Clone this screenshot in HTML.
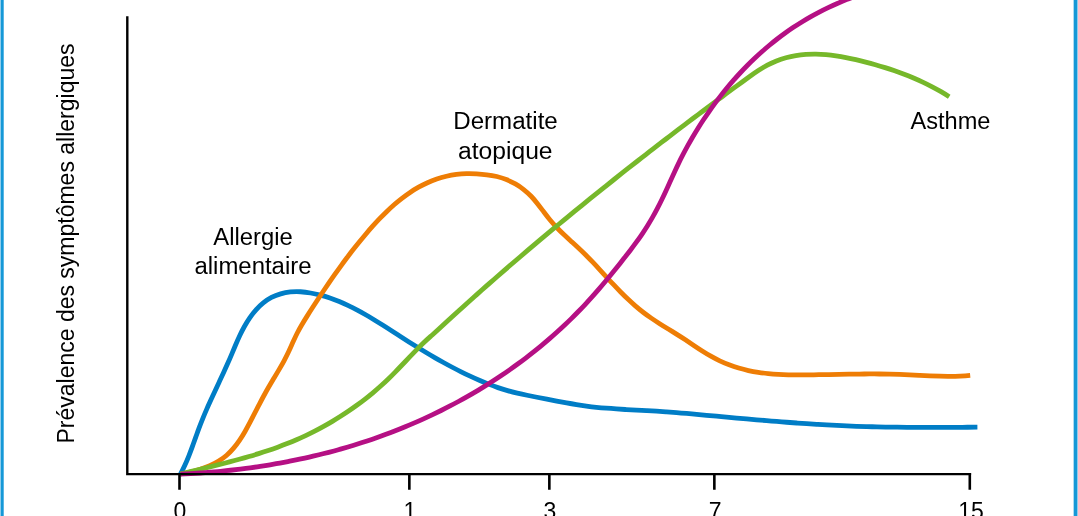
<!DOCTYPE html>
<html lang="fr"><head><meta charset="utf-8"><title>Prévalence des symptômes allergiques</title>
<style>
html,body{margin:0;padding:0;background:#fff;}
body{width:1078px;height:516px;overflow:hidden;position:relative;}
svg{position:absolute;left:0;top:0;display:block;}
text{font-family:"Liberation Sans",sans-serif;font-size:23px;fill:#000;}
.c{fill:none;stroke-width:4.8;stroke-linecap:butt;stroke-linejoin:round;}
.ax{fill:none;stroke:#000;stroke-width:2.4;}
</style></head><body>
<svg width="1078" height="516" viewBox="0 0 1078 516">
<rect x="0" y="0" width="1078" height="516" fill="#fff"/>
<rect x="0" y="0" width="1" height="516" fill="#9dd3ef"/>
<rect x="0.9" y="0" width="2.8" height="516" fill="#1598d7"/>
<rect x="1073.65" y="0" width="3.55" height="516" fill="#1598d7"/>
<rect x="1077.2" y="0" width="0.8" height="516" fill="#7cc5e9"/>
<path class="c" stroke="#007dc6" d="M180.50 474.00C182.09 471.06 183.57 468.06 184.95 465.02C186.34 461.97 187.63 458.89 188.87 455.77C190.11 452.66 191.29 449.51 192.44 446.36C193.59 443.20 194.72 440.03 195.85 436.87C196.99 433.71 198.12 430.55 199.30 427.41C200.47 424.27 201.69 421.15 202.95 418.06C204.21 414.97 205.52 411.90 206.85 408.84C208.19 405.79 209.55 402.75 210.94 399.72C212.32 396.69 213.73 393.67 215.14 390.65C216.55 387.63 217.97 384.61 219.39 381.59C220.80 378.57 222.21 375.54 223.61 372.50C225.01 369.46 226.40 366.41 227.75 363.34C229.11 360.28 230.44 357.19 231.74 354.08C233.05 350.98 234.34 347.86 235.67 344.76C237.00 341.66 238.36 338.57 239.80 335.52C241.24 332.47 242.76 329.46 244.41 326.51C246.05 323.56 247.82 320.67 249.75 317.88C251.68 315.08 253.77 312.39 256.02 309.87C258.26 307.35 260.67 305.01 263.25 302.92C265.82 300.83 268.56 298.99 271.47 297.47C274.38 295.95 277.45 294.74 280.62 293.83C283.80 292.91 287.08 292.29 290.40 291.96C293.73 291.62 297.11 291.56 300.48 291.77C303.85 291.97 307.22 292.41 310.55 293.00C313.88 293.60 317.16 294.33 320.39 295.18C323.63 296.03 326.81 297.00 329.96 298.07C333.11 299.14 336.22 300.32 339.29 301.59C342.36 302.85 345.40 304.21 348.40 305.65C351.41 307.08 354.39 308.59 357.34 310.16C360.29 311.73 363.22 313.36 366.13 315.04C369.04 316.71 371.93 318.44 374.80 320.20C377.68 321.95 380.54 323.74 383.39 325.55C386.24 327.36 389.09 329.18 391.93 331.01C394.77 332.84 397.60 334.67 400.44 336.49C403.28 338.32 406.12 340.13 408.96 341.92C411.81 343.71 414.66 345.49 417.51 347.25C420.37 349.01 423.23 350.75 426.10 352.47C428.97 354.19 431.85 355.89 434.74 357.56C437.63 359.23 440.54 360.87 443.45 362.49C446.37 364.11 449.30 365.69 452.25 367.25C455.20 368.80 458.16 370.33 461.14 371.81C464.12 373.30 467.12 374.75 470.14 376.16C473.16 377.58 476.21 378.95 479.27 380.28C482.34 381.61 485.42 382.91 488.54 384.14C491.65 385.38 494.79 386.55 497.96 387.63C501.13 388.72 504.33 389.71 507.55 390.62C510.77 391.53 514.02 392.36 517.28 393.12C520.54 393.89 523.81 394.60 527.10 395.27C530.38 395.95 533.67 396.60 536.96 397.25C540.25 397.90 543.54 398.55 546.83 399.20C550.12 399.85 553.41 400.49 556.69 401.11C559.98 401.74 563.28 402.35 566.57 402.93C569.86 403.52 573.16 404.08 576.46 404.60C579.76 405.13 583.07 405.62 586.38 406.07C589.69 406.51 593.01 406.92 596.33 407.27C599.66 407.63 602.99 407.94 606.32 408.21C609.66 408.49 613.00 408.73 616.34 408.95C619.68 409.17 623.03 409.37 626.38 409.55C629.72 409.74 633.07 409.91 636.42 410.08C639.77 410.26 643.12 410.43 646.47 410.61C649.82 410.79 653.17 410.98 656.51 411.19C659.86 411.40 663.20 411.63 666.54 411.87C669.88 412.11 673.22 412.37 676.56 412.64C679.90 412.91 683.23 413.19 686.57 413.48C689.90 413.77 693.24 414.07 696.57 414.37C699.91 414.68 703.24 414.99 706.57 415.30C709.91 415.60 713.24 415.92 716.57 416.23C719.91 416.53 723.24 416.84 726.58 417.15C729.91 417.45 733.25 417.76 736.58 418.06C739.92 418.36 743.26 418.66 746.59 418.95C749.93 419.25 753.27 419.54 756.61 419.82C759.94 420.11 763.28 420.39 766.62 420.67C769.96 420.94 773.30 421.21 776.64 421.48C779.98 421.74 783.32 422.00 786.66 422.26C790.00 422.51 793.34 422.75 796.68 422.99C800.02 423.23 803.36 423.46 806.71 423.68C810.05 423.90 813.39 424.12 816.74 424.32C820.08 424.53 823.42 424.72 826.77 424.91C830.11 425.09 833.45 425.27 836.80 425.43C840.15 425.60 843.49 425.75 846.84 425.90C850.18 426.04 853.53 426.17 856.88 426.29C860.22 426.41 863.57 426.52 866.92 426.61C870.27 426.71 873.61 426.79 876.96 426.87C880.31 426.95 883.66 427.01 887.01 427.07C890.36 427.13 893.70 427.17 897.05 427.21C900.40 427.25 903.75 427.29 907.10 427.31C910.45 427.34 913.80 427.36 917.15 427.37C920.50 427.38 923.85 427.39 927.19 427.39C930.54 427.39 933.89 427.39 937.24 427.38C940.59 427.38 943.94 427.37 947.28 427.35C950.63 427.34 953.98 427.32 957.33 427.30C960.67 427.29 964.02 427.27 967.36 427.25C970.71 427.22 974.06 427.20 977.40 427.18"/>
<path class="c" stroke="#ee7d05" d="M180.50 474.00C183.71 473.48 186.99 472.86 190.28 472.10C193.57 471.34 196.87 470.45 200.13 469.41C203.38 468.37 206.59 467.17 209.70 465.79C212.80 464.41 215.81 462.86 218.66 461.10C221.51 459.34 224.19 457.37 226.68 455.20C229.16 453.02 231.46 450.64 233.62 448.10C235.77 445.57 237.77 442.88 239.67 440.09C241.56 437.30 243.33 434.40 245.03 431.45C246.73 428.50 248.36 425.49 249.94 422.48C251.52 419.47 253.06 416.46 254.59 413.47C256.12 410.48 257.64 407.52 259.17 404.56C260.70 401.61 262.24 398.68 263.82 395.75C265.41 392.83 267.03 389.92 268.71 387.02C270.39 384.13 272.12 381.24 273.85 378.34C275.59 375.45 277.34 372.55 279.05 369.63C280.76 366.71 282.44 363.78 284.04 360.80C285.64 357.83 287.16 354.82 288.59 351.78C290.01 348.73 291.37 345.66 292.75 342.60C294.13 339.55 295.52 336.50 297.02 333.52C298.51 330.53 300.13 327.62 301.84 324.74C303.54 321.86 305.31 319.00 307.11 316.13C308.90 313.26 310.72 310.39 312.57 307.53C314.41 304.66 316.27 301.81 318.14 298.98C320.02 296.14 321.89 293.32 323.77 290.53C325.65 287.73 327.54 284.95 329.44 282.19C331.34 279.43 333.24 276.69 335.17 273.97C337.09 271.24 339.03 268.53 340.99 265.84C342.95 263.14 344.93 260.47 346.93 257.80C348.94 255.14 350.96 252.49 353.02 249.85C355.08 247.22 357.16 244.59 359.28 241.98C361.40 239.37 363.56 236.77 365.75 234.18C367.94 231.59 370.17 229.01 372.44 226.47C374.71 223.92 377.03 221.40 379.38 218.93C381.74 216.46 384.15 214.04 386.60 211.67C389.05 209.31 391.55 207.00 394.10 204.77C396.66 202.55 399.26 200.39 401.92 198.34C404.58 196.28 407.30 194.31 410.08 192.45C412.85 190.59 415.69 188.84 418.59 187.21C421.49 185.58 424.45 184.07 427.48 182.70C430.50 181.33 433.60 180.10 436.76 179.03C439.93 177.95 443.16 177.03 446.44 176.27C449.72 175.51 453.04 174.91 456.40 174.48C459.75 174.04 463.13 173.78 466.51 173.69C469.90 173.60 473.29 173.69 476.68 173.88C480.06 174.08 483.45 174.36 486.81 174.76C490.17 175.17 493.51 175.72 496.77 176.52C500.04 177.32 503.25 178.34 506.36 179.58C509.47 180.82 512.50 182.28 515.40 183.94C518.30 185.60 521.08 187.46 523.72 189.52C526.35 191.57 528.84 193.83 531.15 196.26C533.46 198.69 535.63 201.28 537.71 203.95C539.80 206.62 541.82 209.35 543.86 212.06C545.89 214.77 547.94 217.44 550.08 220.01C552.21 222.58 554.43 225.07 556.72 227.49C559.02 229.90 561.41 232.25 563.85 234.56C566.29 236.87 568.78 239.14 571.28 241.41C573.78 243.68 576.28 245.94 578.75 248.24C581.21 250.54 583.63 252.87 586.00 255.25C588.37 257.62 590.70 260.03 593.01 262.47C595.32 264.91 597.60 267.37 599.88 269.84C602.16 272.32 604.44 274.80 606.73 277.28C609.02 279.77 611.31 282.25 613.63 284.70C615.94 287.16 618.28 289.60 620.64 292.01C623.01 294.41 625.41 296.78 627.85 299.09C630.29 301.41 632.78 303.67 635.31 305.86C637.85 308.06 640.45 310.19 643.11 312.23C645.76 314.27 648.49 316.23 651.26 318.13C654.03 320.02 656.85 321.87 659.69 323.67C662.53 325.48 665.40 327.26 668.27 329.03C671.15 330.80 674.02 332.57 676.89 334.36C679.75 336.14 682.59 337.95 685.40 339.80C688.22 341.66 691.01 343.54 693.80 345.40C696.60 347.27 699.40 349.13 702.23 350.93C705.06 352.74 707.92 354.49 710.85 356.14C713.77 357.80 716.76 359.36 719.81 360.80C722.86 362.24 725.97 363.57 729.12 364.78C732.27 365.99 735.47 367.08 738.69 368.04C741.91 369.00 745.16 369.84 748.43 370.56C751.71 371.28 755.00 371.88 758.31 372.39C761.62 372.89 764.95 373.30 768.29 373.63C771.63 373.96 774.98 374.21 778.35 374.40C781.71 374.59 785.08 374.71 788.46 374.79C791.84 374.87 795.22 374.90 798.60 374.91C801.98 374.91 805.36 374.89 808.74 374.85C812.12 374.82 815.49 374.77 818.87 374.72C822.24 374.67 825.61 374.61 828.97 374.55C832.34 374.48 835.70 374.42 839.06 374.36C842.42 374.29 845.78 374.23 849.14 374.18C852.50 374.12 855.86 374.08 859.22 374.04C862.58 374.00 865.93 373.98 869.29 373.96C872.65 373.95 876.00 373.96 879.36 373.98C882.72 374.01 886.08 374.05 889.44 374.12C892.80 374.18 896.16 374.28 899.53 374.40C902.89 374.52 906.26 374.67 909.63 374.83C912.99 375.00 916.36 375.18 919.73 375.35C923.10 375.52 926.47 375.69 929.84 375.84C933.21 375.98 936.58 376.10 939.95 376.19C943.32 376.27 946.69 376.31 950.05 376.28C953.41 376.26 956.78 376.18 960.13 376.03C963.49 375.87 966.85 375.63 970.20 375.30"/>
<path class="c" stroke="#76b82a" d="M180.50 473.99C183.75 473.19 187.01 472.41 190.27 471.62C193.53 470.83 196.80 470.04 200.07 469.25C203.34 468.46 206.61 467.67 209.88 466.87C213.15 466.06 216.42 465.25 219.68 464.42C222.95 463.60 226.21 462.76 229.47 461.90C232.73 461.05 235.99 460.17 239.24 459.28C242.48 458.38 245.73 457.46 248.96 456.52C252.19 455.57 255.41 454.60 258.62 453.59C261.83 452.59 265.03 451.55 268.22 450.48C271.41 449.41 274.58 448.30 277.74 447.15C280.89 446.00 284.03 444.81 287.16 443.58C290.28 442.34 293.38 441.06 296.47 439.73C299.55 438.40 302.62 437.02 305.66 435.59C308.70 434.15 311.72 432.67 314.72 431.13C317.71 429.60 320.68 428.02 323.62 426.39C326.56 424.76 329.48 423.08 332.37 421.36C335.25 419.64 338.11 417.88 340.93 416.08C343.76 414.27 346.55 412.43 349.31 410.54C352.07 408.66 354.79 406.74 357.48 404.78C360.17 402.82 362.82 400.83 365.43 398.80C368.05 396.76 370.63 394.69 373.17 392.57C375.72 390.45 378.23 388.29 380.70 386.07C383.18 383.85 385.63 381.57 388.04 379.24C390.45 376.90 392.84 374.51 395.20 372.09C397.57 369.67 399.91 367.22 402.25 364.76C404.59 362.31 406.92 359.84 409.25 357.39C411.59 354.94 413.92 352.51 416.27 350.11C418.62 347.72 420.98 345.36 423.37 343.07C425.76 340.78 428.18 338.55 430.61 336.40C433.05 334.26 435.48 332.17 437.76 330.07C440.05 327.98 442.37 325.81 444.78 323.59C447.19 321.37 449.66 319.10 452.14 316.83C454.62 314.56 457.11 312.29 459.60 310.02C462.09 307.76 464.59 305.50 467.09 303.25C469.59 301.00 472.09 298.75 474.60 296.51C477.11 294.27 479.62 292.04 482.14 289.80C484.66 287.57 487.18 285.35 489.71 283.13C492.23 280.91 494.77 278.69 497.30 276.48C499.83 274.27 502.37 272.06 504.92 269.86C507.46 267.66 510.00 265.46 512.56 263.27C515.11 261.08 517.66 258.89 520.22 256.70C522.78 254.52 525.34 252.34 527.90 250.17C530.47 247.99 533.04 245.82 535.61 243.65C538.18 241.49 540.76 239.32 543.34 237.16C545.92 235.01 548.50 232.85 551.09 230.70C553.67 228.55 556.26 226.40 558.85 224.26C561.45 222.11 564.04 219.97 566.64 217.83C569.24 215.70 571.84 213.56 574.45 211.43C577.05 209.30 579.66 207.18 582.27 205.05C584.88 202.93 587.50 200.81 590.11 198.69C592.73 196.58 595.35 194.47 597.97 192.36C600.60 190.25 603.22 188.14 605.85 186.04C608.48 183.94 611.11 181.84 613.74 179.75C616.38 177.65 619.02 175.56 621.66 173.48C624.29 171.39 626.94 169.30 629.58 167.23C632.23 165.15 634.88 163.07 637.53 161.00C640.18 158.93 642.83 156.86 645.48 154.79C648.14 152.73 650.80 150.67 653.46 148.61C656.12 146.55 658.78 144.50 661.45 142.45C664.11 140.40 666.78 138.35 669.45 136.31C672.12 134.27 674.80 132.23 677.47 130.20C680.15 128.16 682.82 126.13 685.50 124.11C688.18 122.08 690.87 120.06 693.55 118.04C696.23 116.02 698.92 114.00 701.61 111.99C704.30 109.98 706.99 107.97 709.69 105.96C712.38 103.95 715.08 101.95 717.78 99.94C720.49 97.94 723.19 95.94 725.90 93.94C728.61 91.94 731.32 89.94 734.03 87.94C736.75 85.94 739.46 83.95 742.19 81.95C744.91 79.95 747.63 77.95 750.38 75.98C753.12 74.02 755.89 72.10 758.70 70.27C761.52 68.44 764.39 66.71 767.33 65.13C770.27 63.55 773.29 62.13 776.40 60.90C779.51 59.66 782.70 58.61 785.95 57.73C789.19 56.84 792.49 56.13 795.83 55.58C799.16 55.02 802.52 54.63 805.89 54.39C809.25 54.15 812.62 54.05 815.98 54.10C819.34 54.14 822.68 54.33 826.02 54.62C829.36 54.91 832.69 55.32 836.00 55.81C839.32 56.31 842.63 56.89 845.93 57.55C849.23 58.20 852.53 58.92 855.81 59.68C859.09 60.45 862.37 61.25 865.64 62.09C868.90 62.93 872.16 63.81 875.40 64.73C878.65 65.64 881.88 66.60 885.09 67.61C888.31 68.61 891.50 69.66 894.68 70.76C897.86 71.86 901.02 73.01 904.16 74.21C907.30 75.41 910.42 76.67 913.51 77.98C916.60 79.29 919.67 80.66 922.70 82.09C925.74 83.51 928.75 85.00 931.73 86.56C934.71 88.11 937.66 89.73 940.57 91.42C943.48 93.11 946.36 94.87 949.20 96.70"/>
<path class="c" stroke="#b51084" d="M180.50 474.20C183.83 474.04 187.16 473.86 190.49 473.66C193.82 473.46 197.15 473.24 200.48 473.00C203.81 472.76 207.14 472.49 210.46 472.21C213.79 471.93 217.11 471.63 220.43 471.30C223.76 470.98 227.07 470.63 230.39 470.26C233.71 469.89 237.02 469.50 240.33 469.09C243.65 468.68 246.95 468.25 250.26 467.79C253.57 467.33 256.87 466.85 260.17 466.35C263.46 465.85 266.76 465.32 270.05 464.77C273.34 464.23 276.62 463.65 279.90 463.06C283.19 462.46 286.46 461.84 289.73 461.20C293.01 460.56 296.27 459.89 299.53 459.20C302.79 458.51 306.05 457.79 309.30 457.05C312.55 456.31 315.79 455.54 319.03 454.75C322.27 453.96 325.50 453.15 328.73 452.31C331.95 451.46 335.17 450.60 338.38 449.70C341.59 448.81 344.79 447.89 347.99 446.95C351.19 446.00 354.37 445.03 357.55 444.03C360.73 443.04 363.91 442.01 367.07 440.96C370.24 439.91 373.39 438.83 376.54 437.72C379.69 436.62 382.82 435.49 385.95 434.32C389.08 433.16 392.20 431.98 395.31 430.76C398.42 429.55 401.52 428.30 404.61 427.03C407.70 425.76 410.77 424.46 413.84 423.14C416.91 421.82 419.96 420.46 423.00 419.08C426.05 417.71 429.08 416.30 432.09 414.87C435.11 413.43 438.11 411.97 441.10 410.49C444.10 409.00 447.07 407.48 450.03 405.94C453.00 404.40 455.95 402.83 458.88 401.24C461.81 399.64 464.73 398.02 467.63 396.37C470.54 394.72 473.42 393.05 476.29 391.35C479.16 389.64 482.02 387.91 484.86 386.16C487.69 384.40 490.51 382.62 493.31 380.81C496.12 379.00 498.90 377.16 501.67 375.30C504.43 373.44 507.18 371.55 509.91 369.64C512.64 367.72 515.34 365.78 518.03 363.81C520.72 361.84 523.39 359.85 526.04 357.82C528.69 355.80 531.32 353.76 533.92 351.68C536.53 349.61 539.12 347.51 541.68 345.38C544.24 343.25 546.78 341.10 549.30 338.92C551.82 336.74 554.32 334.54 556.79 332.31C559.26 330.07 561.71 327.82 564.14 325.53C566.56 323.25 568.96 320.94 571.34 318.60C573.71 316.27 576.07 313.91 578.39 311.52C580.72 309.13 583.02 306.72 585.29 304.28C587.57 301.84 589.82 299.37 592.04 296.89C594.26 294.40 596.47 291.89 598.65 289.36C600.83 286.83 602.99 284.28 605.13 281.72C607.27 279.15 609.40 276.58 611.51 273.98C613.62 271.39 615.72 268.79 617.81 266.18C619.89 263.57 621.97 260.95 624.03 258.33C626.10 255.71 628.15 253.08 630.18 250.43C632.21 247.79 634.21 245.12 636.17 242.43C638.13 239.74 640.05 237.03 641.92 234.28C643.78 231.52 645.59 228.74 647.35 225.92C649.11 223.10 650.82 220.25 652.47 217.37C654.12 214.48 655.72 211.57 657.26 208.62C658.80 205.67 660.29 202.69 661.74 199.69C663.19 196.69 664.61 193.66 666.00 190.63C667.40 187.60 668.78 184.55 670.16 181.51C671.54 178.47 672.92 175.43 674.31 172.40C675.71 169.38 677.13 166.36 678.58 163.37C680.03 160.37 681.53 157.41 683.06 154.46C684.59 151.51 686.16 148.59 687.77 145.69C689.38 142.78 691.03 139.90 692.71 137.03C694.40 134.16 696.12 131.31 697.88 128.48C699.65 125.65 701.44 122.84 703.28 120.05C705.12 117.27 706.99 114.50 708.90 111.76C710.81 109.02 712.76 106.30 714.75 103.61C716.74 100.92 718.76 98.26 720.82 95.62C722.88 92.99 724.97 90.38 727.11 87.80C729.24 85.23 731.41 82.68 733.62 80.17C735.82 77.66 738.06 75.18 740.34 72.74C742.62 70.30 744.94 67.89 747.29 65.52C749.64 63.15 752.02 60.81 754.45 58.52C756.87 56.23 759.33 53.97 761.82 51.76C764.31 49.55 766.84 47.38 769.41 45.25C771.97 43.13 774.57 41.05 777.21 39.01C779.84 36.97 782.51 34.98 785.22 33.04C787.92 31.10 790.66 29.21 793.43 27.37C796.21 25.52 799.01 23.73 801.85 21.98C804.69 20.24 807.55 18.54 810.45 16.90C813.35 15.25 816.28 13.66 819.23 12.12C822.19 10.57 825.17 9.08 828.18 7.64C831.19 6.20 834.22 4.81 837.28 3.48C840.34 2.14 843.42 0.86 846.52 -0.37C849.63 -1.60 852.75 -2.78 855.90 -3.90C859.05 -5.02 862.21 -6.09 865.40 -7.11C868.58 -8.12 871.79 -9.09 875.00 -9.99"/>
<path class="ax" d="M127.3 16.3V474.1H971.1"/>
<path class="ax" style="stroke-width:2.6" d="M179.5 474.1V489.7M409.35 474.1V489.7M549.35 474.1V489.7M714.35 474.1V489.7M969.8 473V489.7"/>
<text x="253" y="244.6" text-anchor="middle" textLength="79.5" lengthAdjust="spacingAndGlyphs">Allergie</text>
<text x="253" y="273.9" text-anchor="middle" textLength="117" lengthAdjust="spacingAndGlyphs">alimentaire</text>
<text x="505.5" y="128.8" text-anchor="middle" textLength="104.5" lengthAdjust="spacingAndGlyphs">Dermatite</text>
<text x="505.3" y="158.5" text-anchor="middle" textLength="94.5" lengthAdjust="spacingAndGlyphs">atopique</text>
<text x="950.5" y="128.7" text-anchor="middle" textLength="80" lengthAdjust="spacingAndGlyphs">Asthme</text>
<text transform="translate(73.8 443.5) rotate(-90)" x="0" y="0" textLength="400" lengthAdjust="spacingAndGlyphs">Prévalence des symptômes allergiques</text>
<text x="179.8" y="519.1" text-anchor="middle">0</text>
<text x="409.8" y="519.1" text-anchor="middle">1</text>
<text x="549.8" y="519.1" text-anchor="middle">3</text>
<text x="715.2" y="519.1" text-anchor="middle">7</text>
<text x="971" y="519.1" text-anchor="middle">15</text>
</svg>
</body></html>
